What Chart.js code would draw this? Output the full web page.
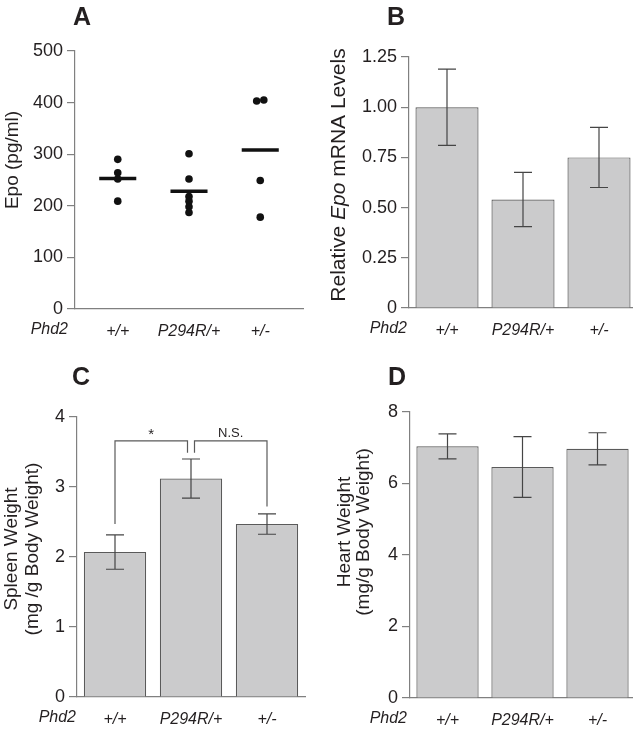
<!DOCTYPE html>
<html>
<head>
<meta charset="utf-8">
<script src="https://cdn.jsdelivr.net/npm/chart.js@4.4.1/dist/chart.umd.min.js"></script>
<style>
  html, body { margin: 0; padding: 0; background: #fff; overflow: hidden; }
  #wrap { position: relative; width: 633px; height: 732px; }
  canvas { position: absolute; }
</style>
</head>
<body>
<div id="wrap">
  <canvas id="chartA" width="316" height="345" style="left:0;top:0"></canvas>
  <canvas id="chartB" width="325" height="345" style="left:316px;top:0"></canvas>
  <canvas id="chartC" width="316" height="387" style="left:0;top:345px"></canvas>
  <canvas id="chartD" width="325" height="387" style="left:316px;top:345px"></canvas>
</div>
<script>
// genotypes
const groups = ['+/+', 'P294R/+', '+/-'];

// A - serum Epo (pg/ml), single animals
const epoWT = [290, 264, 252, 209];
const epoP294R = [301, 252, 218, 209, 198, 187];
const epoHet = [405, 403, 249, 178];
const epoHetJitter = [0.05, -0.05, 0, 0];
const epoMeans = [253, 228, 308];

// B - relative Epo mRNA
const mrnaMean = [1.00, 0.54, 0.75];
const mrnaErr = [0.19, 0.135, 0.15];

// C - spleen weight
const spleenMean = [2.07, 3.12, 2.47];
const spleenErr = [0.245, 0.28, 0.145];

// D - heart weight
const heartMean = [7.04, 6.46, 6.97];
const heartErr = [0.35, 0.85, 0.45];

const FONT = '"Liberation Sans", Arial, sans-serif';
const ink = '#231f20';
const axisGray = '#808080';
const barFill = '#cbcbcc';
const barEdge = '#5a5a5a';

Chart.defaults.font.family = FONT;
Chart.defaults.color = ink;

// letters, "Phd2" and the rotated y titles
const deco = {
  id: 'deco',
  afterDraw(chart, args, opts) {
    const ctx = chart.ctx;
    const xs = chart.scales.x, ys = chart.scales.y;
    ctx.save();
    ctx.fillStyle = ink;
    ctx.font = 'bold 25px ' + FONT;
    ctx.textAlign = 'left';
    ctx.textBaseline = 'alphabetic';
    ctx.fillText(opts.letter, opts.letterX, opts.letterY);

    ctx.font = 'italic 16px ' + FONT;
    ctx.textAlign = 'right';
    ctx.textBaseline = 'middle';
    ctx.fillText('Phd2', ys.left + ys.width - opts.phdGap, xs.top + 21);

    const t = opts.title;
    t.lines.forEach((segs, li) => {
      ctx.save();
      ctx.translate(t.xs[li], t.cy);
      ctx.rotate(-Math.PI / 2);
      ctx.textAlign = 'left';
      ctx.textBaseline = 'middle';
      let w = 0;
      segs.forEach(s => {
        ctx.font = (s.italic ? 'italic ' : '') + t.size + 'px ' + FONT;
        w += ctx.measureText(s.text).width;
      });
      let px = -w / 2;
      segs.forEach(s => {
        ctx.font = (s.italic ? 'italic ' : '') + t.size + 'px ' + FONT;
        ctx.fillText(s.text, px, 0);
        px += ctx.measureText(s.text).width;
      });
      ctx.restore();
    });
    ctx.restore();
  }
};

const errorBars = {
  id: 'errorBars',
  afterDatasetsDraw(chart) {
    const ctx = chart.ctx, ys = chart.scales.y;
    chart.data.datasets.forEach((ds, di) => {
      if (!ds.errors) return;
      const meta = chart.getDatasetMeta(di);
      ctx.save();
      ctx.strokeStyle = '#454545';
      ctx.lineWidth = 1.2;
      meta.data.forEach((bar, i) => {
        const top = ys.getPixelForValue(ds.data[i] + ds.errors[i]);
        const bot = ys.getPixelForValue(ds.data[i] - ds.errors[i]);
        ctx.beginPath();
        ctx.moveTo(bar.x, top); ctx.lineTo(bar.x, bot);
        ctx.moveTo(bar.x - 9, top); ctx.lineTo(bar.x + 9, top);
        ctx.moveTo(bar.x - 9, bot); ctx.lineTo(bar.x + 9, bot);
        ctx.stroke();
      });
      ctx.restore();
    });
  }
};

// significance brackets for panel C
const brackets = {
  id: 'brackets',
  afterDatasetsDraw(chart, args, opts) {
    if (!opts.items) return;
    const ctx = chart.ctx, xs = chart.scales.x, ys = chart.scales.y;
    ctx.save();
    ctx.strokeStyle = '#5a5a5a';
    ctx.lineWidth = 1.2;
    ctx.fillStyle = ink;
    opts.items.forEach(b => {
      const x1 = xs.getPixelForValue(b.a) + b.aOff;
      const x2 = xs.getPixelForValue(b.b) + b.bOff;
      const yt = ys.getPixelForValue(b.top);
      ctx.beginPath();
      ctx.moveTo(x1, ys.getPixelForValue(b.aBottom));
      ctx.lineTo(x1, yt);
      ctx.lineTo(x2, yt);
      ctx.lineTo(x2, ys.getPixelForValue(b.bBottom));
      ctx.stroke();
      ctx.font = b.size + 'px ' + FONT;
      ctx.textAlign = 'center';
      ctx.textBaseline = 'alphabetic';
      ctx.fillText(b.label, (x1 + x2) / 2, yt - b.lift);
    });
    ctx.restore();
  }
};

function yAxis(min, max, step, width, fmt) {
  return {
    min: min, max: max,
    afterFit(s) { s.width = width; },
    border: { display: true, color: axisGray, width: 1.2 },
    grid: { drawOnChartArea: false, drawTicks: true, tickLength: 8, color: axisGray, lineWidth: 1.2 },
    ticks: { stepSize: step, padding: 4, color: ink, font: { size: 18 }, callback: fmt || (v => v) }
  };
}

function xFit(h) {
  return {
    afterFit(s) { s.height = h; },
    border: { display: true, color: axisGray, width: 1.2 },
    grid: { drawOnChartArea: false, drawTicks: false, color: axisGray },
    ticks: { padding: 13, color: ink, font: { size: 16, style: 'italic' } }
  };
}

const baseOpts = {
  responsive: false,
  animation: false,
  devicePixelRatio: 1,
  plugins: { legend: { display: false }, tooltip: { enabled: false } }
};

// ---- A ----
const dot = { pointRadius: 3.8, pointBackgroundColor: '#111', pointBorderWidth: 0, showLine: false };
const meanHalf = 0.26;
const xA = xFit(36);
xA.type = 'linear';
xA.min = 0.4; xA.max = 3.6;
xA.afterBuildTicks = s => { s.ticks = groups.map((g, i) => ({ value: i + 1 })); };
xA.ticks.callback = v => groups[v - 1];

new Chart(document.getElementById('chartA'), {
  type: 'scatter',
  data: {
    datasets: [
      Object.assign({ data: epoWT.map(v => ({ x: 1, y: v })) }, dot),
      Object.assign({ data: epoP294R.map(v => ({ x: 2, y: v })) }, dot),
      Object.assign({ data: epoHet.map((v, i) => ({ x: 3 + epoHetJitter[i], y: v })) }, dot)
    ].concat(epoMeans.map((m, i) => ({
      type: 'line',
      data: [{ x: i + 1 - meanHalf, y: m }, { x: i + 1 + meanHalf, y: m }],
      borderColor: '#111', borderWidth: 3.5, pointRadius: 0
    })))
  },
  options: Object.assign({}, baseOpts, {
    layout: { padding: { top: 51, right: 13, left: 0, bottom: 0 } },
    scales: { x: xA, y: yAxis(0, 500, 100, 75) },
    plugins: Object.assign({}, baseOpts.plugins, {
      deco: {
        letter: 'A', letterX: 73, letterY: 25, phdGap: 7,
        title: { size: 19, xs: [13], cy: 160, lines: [[{ text: 'Epo (pg/ml)' }]] }
      }
    })
  }),
  plugins: [deco]
});

function barSet(mean, err, pct) {
  return {
    data: mean, errors: err,
    backgroundColor: barFill, borderColor: barEdge, borderWidth: 1.2,
    barPercentage: pct, categoryPercentage: 1
  };
}

// ---- B ----
new Chart(document.getElementById('chartB'), {
  type: 'bar',
  data: { labels: groups, datasets: [barSet(mrnaMean, mrnaErr, 0.83)] },
  options: Object.assign({}, baseOpts, {
    layout: { padding: { top: 57, right: 4, left: 0, bottom: 0 } },
    scales: { x: xFit(37), y: yAxis(0, 1.25, 0.25, 93, v => v === 0 ? '0' : v.toFixed(2)) },
    plugins: Object.assign({}, baseOpts.plugins, {
      deco: {
        letter: 'B', letterX: 71, letterY: 25, phdGap: 2,
        title: { size: 21, xs: [23], cy: 175, lines: [[{ text: 'Relative ' }, { text: 'Epo', italic: true }, { text: ' mRNA Levels' }]] }
      }
    })
  }),
  plugins: [deco, errorBars]
});

// ---- C ----
new Chart(document.getElementById('chartC'), {
  type: 'bar',
  data: { labels: groups, datasets: [barSet(spleenMean, spleenErr, 0.82)] },
  options: Object.assign({}, baseOpts, {
    layout: { padding: { top: 72, right: 11, left: 0, bottom: 0 } },
    scales: { x: xFit(35), y: yAxis(0, 4, 1, 77) },
    plugins: Object.assign({}, baseOpts.plugins, {
      deco: {
        letter: 'C', letterX: 72, letterY: 40, phdGap: 1,
        title: { size: 19, xs: [12, 33], cy: 204, lines: [[{ text: 'Spleen Weight' }], [{ text: '(mg /g Body Weight)' }]] }
      },
      brackets: {
        items: [
          { a: 0, b: 1, aOff: 0, bOff: -3.5, top: 3.66, aBottom: 2.47, bBottom: 3.49, label: '*', size: 15, lift: 2 },
          { a: 1, b: 2, aOff: 3.5, bOff: 0, top: 3.66, aBottom: 3.49, bBottom: 2.72, label: 'N.S.', size: 13, lift: 4 }
        ]
      }
    })
  }),
  plugins: [deco, errorBars, brackets]
});

// ---- D ----
new Chart(document.getElementById('chartD'), {
  type: 'bar',
  data: { labels: groups, datasets: [barSet(heartMean, heartErr, 0.83)] },
  options: Object.assign({}, baseOpts, {
    layout: { padding: { top: 67, right: 6, left: 0, bottom: 0 } },
    scales: { x: xFit(34), y: yAxis(0, 8, 2, 94) },
    plugins: Object.assign({}, baseOpts.plugins, {
      deco: {
        letter: 'D', letterX: 72, letterY: 40, phdGap: 3,
        title: { size: 19, xs: [29, 48], cy: 187, lines: [[{ text: 'Heart Weight' }], [{ text: '(mg/g Body Weight)' }]] }
      }
    })
  }),
  plugins: [deco, errorBars]
});
</script>
</body>
</html>
